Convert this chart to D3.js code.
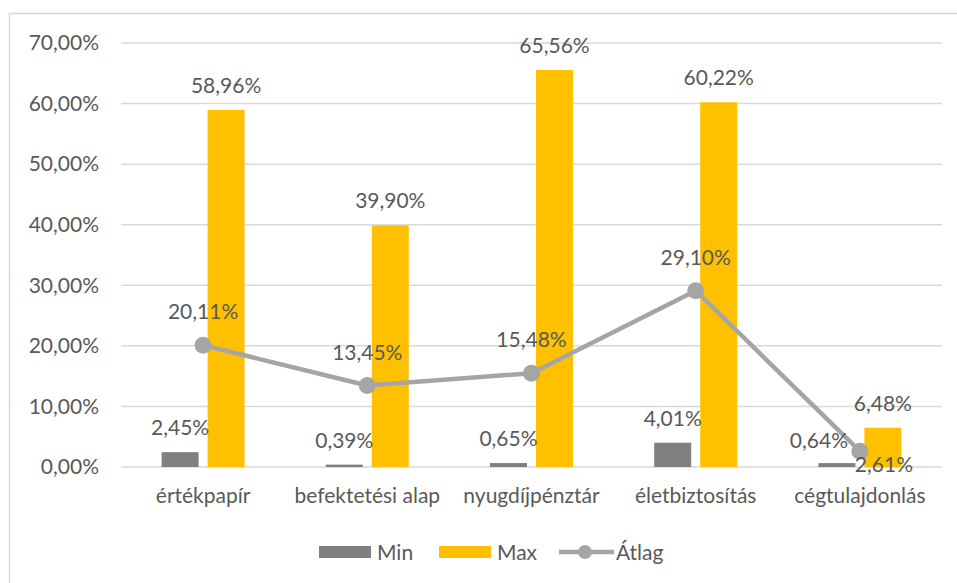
<!DOCTYPE html>
<html>
<head>
<meta charset="utf-8">
<script src="https://cdn.jsdelivr.net/npm/d3@7"></script>
<style>
  html, body { margin: 0; padding: 0; background: #fff; }
  svg { display: block; font-family: Lato, "Open Sans", sans-serif; }
</style>
</head>
<body>
<svg id="chart" width="957" height="583"></svg>
<script>
// Categories and series (percent values)
const categories = ["értékpapír", "befektetési alap", "nyugdíjpénztár", "életbiztosítás", "cégtulajdonlás"];
const minValues = [2.45, 0.39, 0.65, 4.01, 0.64];
const maxValues = [58.96, 39.90, 65.56, 60.22, 6.48];
const avgValues = [20.11, 13.45, 15.48, 29.10, 2.61];
const yTicks = [0, 10, 20, 30, 40, 50, 60, 70];
const seriesNames = ["Min", "Max", "Átlag"];

const colors = { Min: "#7F7F7F", Max: "#FFC000", "Átlag": "#A5A5A5" };
const textColor = "#595959";
const fontSize = 21;
const fmt = v => d3.format(".2f")(v).replace(".", ",") + "%";

const svg = d3.select("#chart");

// chart frame
svg.append("rect")
  .attr("x", 9.5).attr("y", 13.5)
  .attr("width", 960).attr("height", 600)
  .attr("fill", "none").attr("stroke", "#D9D9D9").attr("stroke-width", 1.5);

const plot = { left: 121, right: 942, top: 43, bottom: 467 };

const x = d3.scaleBand().domain(categories).range([plot.left, plot.right]).padding(0);
const sub = d3.scaleBand().domain(["Min", "Max"]).range([0, x.bandwidth()])
  .paddingInner(0.196).paddingOuter(0.883);
const y = d3.scaleLinear().domain([0, 70]).range([plot.bottom, plot.top]);

// gridlines
svg.append("g").selectAll("line").data(yTicks).join("line")
  .attr("x1", plot.left).attr("x2", plot.right)
  .attr("y1", d => y(d)).attr("y2", d => y(d))
  .attr("stroke", "#D9D9D9").attr("stroke-width", 1.5);

// y axis labels
const yAxis = d3.axisLeft(y).tickValues(yTicks).tickFormat(fmt).tickSize(0).tickPadding(0);
const yg = svg.append("g").attr("transform", `translate(${plot.left - 22},0)`).call(yAxis);
yg.select(".domain").remove();
yg.selectAll("text").attr("fill", textColor).attr("font-size", fontSize)
  .attr("font-family", "Lato, sans-serif");

// x axis labels
const xAxis = d3.axisBottom(x).tickSize(0).tickPadding(0);
const xg = svg.append("g").attr("transform", `translate(0,${plot.bottom + 21})`).call(xAxis);
xg.select(".domain").remove();
xg.selectAll("text").attr("fill", textColor).attr("font-size", fontSize)
  .attr("font-family", "Lato, sans-serif").attr("dy", "0.72em");

// bars
const rows = categories.map((c, i) => ({ cat: c, Min: minValues[i], Max: maxValues[i], avg: avgValues[i] }));
const barData = rows.flatMap(r => ["Min", "Max"].map(k => ({ cat: r.cat, key: k, value: r[k] })));

svg.append("g").selectAll("rect").data(barData).join("rect")
  .attr("x", d => x(d.cat) + sub(d.key))
  .attr("width", sub.bandwidth())
  .attr("y", d => y(d.value))
  .attr("height", d => y(0) - y(d.value))
  .attr("fill", d => colors[d.key]);

// line series
const cx = c => x(c) + x.bandwidth() / 2;
const line = d3.line().x(d => cx(d.cat)).y(d => y(d.avg));
svg.append("path").datum(rows)
  .attr("d", line).attr("fill", "none")
  .attr("stroke", colors["Átlag"]).attr("stroke-width", 4.5)
  .attr("stroke-linejoin", "round");
svg.append("g").selectAll("circle").data(rows).join("circle")
  .attr("cx", d => cx(d.cat)).attr("cy", d => y(d.avg)).attr("r", 8.5)
  .attr("fill", colors["Átlag"]);

// data labels
const labelG = svg.append("g").attr("fill", textColor).attr("font-size", fontSize)
  .attr("text-anchor", "middle");
const nudge = { "cégtulajdonlás": { Min: [-18, 2], avg: [24, 47] } };

labelG.selectAll("text.bar").data(barData).join("text")
  .attr("class", "bar")
  .attr("x", d => x(d.cat) + sub(d.key) + sub.bandwidth() / 2 + ((nudge[d.cat] || {})[d.key] || [0, 0])[0])
  .attr("y", d => y(d.value) - 17 + ((nudge[d.cat] || {})[d.key] || [0, 0])[1])
  .text(d => fmt(d.value));

labelG.selectAll("text.avg").data(rows).join("text")
  .attr("class", "avg")
  .attr("x", d => cx(d.cat) + ((nudge[d.cat] || {}).avg || [0, 0])[0])
  .attr("y", d => y(d.avg) - 26 + ((nudge[d.cat] || {}).avg || [0, 0])[1])
  .text(d => fmt(d.avg));

// legend
const lg = svg.append("g").attr("font-size", fontSize).attr("fill", textColor);
const legendY = 552;
const legendX = [319, 439, 559];
seriesNames.forEach((name, i) => {
  const g = lg.append("g").attr("transform", `translate(${legendX[i]},${legendY})`);
  if (name === "Átlag") {
    g.append("line").attr("x1", 0).attr("x2", 55).attr("y1", 0).attr("y2", 0)
      .attr("stroke", colors[name]).attr("stroke-width", 4.5);
    g.append("circle").attr("cx", 26).attr("cy", 0).attr("r", 7).attr("fill", colors[name]);
    g.append("text").attr("x", 57).attr("y", 0).attr("dy", "0.36em").text(name);
  } else {
    g.append("rect").attr("x", 0).attr("y", -6).attr("width", 52).attr("height", 12)
      .attr("fill", colors[name]);
    g.append("text").attr("x", 58).attr("y", 0).attr("dy", "0.36em").text(name);
  }
});
</script>
</body>
</html>
